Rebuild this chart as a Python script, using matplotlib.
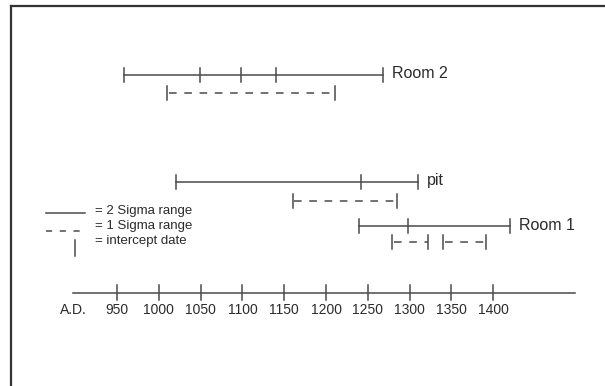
import matplotlib
matplotlib.use('Agg')
from matplotlib import pyplot as plt

plt.rcParams['font.family'] = ['Liberation Sans', 'DejaVu Sans']

# radiocarbon ranges (A.D.)
samples = ['Room 2', 'pit', 'Room 1']
two_sigma = [(958, 1268), (1021, 1310), (1239, 1420)]
one_sigma = [[(1010, 1211)], [(1160, 1285)], [(1279, 1322), (1340, 1391)]]
intercepts = [[1049, 1098, 1140], [1242], [1298]]
years = [950, 1000, 1050, 1100, 1150, 1200, 1250, 1300, 1350, 1400]

col = '#4a4a4a'
txt = '#2b2b2b'

fig = plt.figure(figsize=(6.05, 3.86), dpi=100)
ax = fig.add_axes([0, 0, 1, 1])
# x in years, y in pixel rows from the top
x0 = 950 - 117 / 0.836
x1 = 950 + (605 - 117) / 0.836
ax.set_xlim(x0, x1)
ax.set_ylim(386, 0)
ax.axis('off')

def px(p):
    return x0 + p / 0.836

# frame (top and left only)
ax.plot([px(10.5), px(605)], [5.5, 5.5], color='#333333', lw=1.6)
ax.plot([px(10.5), px(10.5)], [5.5, 386], color='#333333', lw=1.6)

rows_solid = [75, 182, 226]
rows_dash = [93, 201, 242]
cap = 7

for i, name in enumerate(samples):
    a, b = two_sigma[i]
    y = rows_solid[i]
    ax.plot([a, b], [y, y], color=col, lw=1.1)
    for v in [a, b] + intercepts[i]:
        ax.plot([v, v], [y - cap, y + cap], color=col, lw=1.1)
    ax.text(b + 11, y - 1, name, fontsize=11.5, color=txt, va='center', ha='left')
    yd = rows_dash[i]
    for (c, d) in one_sigma[i]:
        ax.plot([c + 2, d], [yd, yd], color=col, lw=1.1, ls=(0, (5, 5)))
        for v in (c, d):
            ax.plot([v, v], [yd - cap, yd + cap], color=col, lw=1.1)

# time axis
ya = 293
ax.plot([px(73), px(575)], [ya, ya], color=col, lw=1.1)
for yr in years:
    ax.plot([yr, yr], [ya - 8, ya + 7], color=col, lw=1.1)
    ax.text(yr, 310, str(yr), fontsize=10, color=txt, ha='center', va='center')
ax.text(px(60), 310, 'A.D.', fontsize=10, color=txt, ha='left', va='center')

# key
ax.plot([px(46), px(85)], [213, 213], color=col, lw=1.1)
ax.plot([px(46), px(85)], [231, 231], color=col, lw=1.1, ls=(0, (4, 5)))
ax.plot([px(75), px(75)], [240, 256], color=col, lw=1.1)
ax.text(px(95), 211, '= 2 Sigma range', fontsize=9.5, color=txt, va='center')
ax.text(px(95), 226, '= 1 Sigma range', fontsize=9.5, color=txt, va='center')
ax.text(px(95), 241, '= intercept date', fontsize=9.5, color=txt, va='center')

fig.savefig('out.png', dpi=100)
